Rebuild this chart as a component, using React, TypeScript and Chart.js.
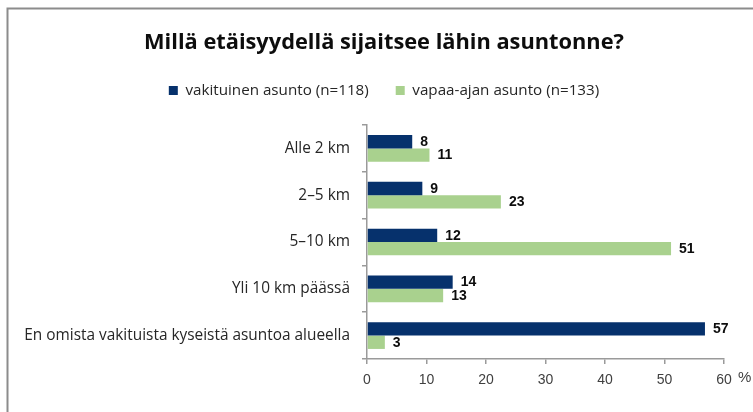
import React, { useEffect, useRef } from "react";
import { Chart, registerables } from "chart.js";

Chart.register(...registerables);

const title = "Millä etäisyydellä sijaitsee lähin asuntonne?";
const categories = [
  "Alle 2 km",
  "2–5 km",
  "5–10 km",
  "Yli 10 km päässä",
  "En omista vakituista kyseistä asuntoa alueella",
];
const seriesNames = ["vakituinen asunto (n=118)", "vapaa-ajan asunto (n=133)"];
const vakituinen = [7.6, 9.3, 11.8, 14.4, 56.8];
const vapaaAjan = [10.5, 22.5, 51.1, 12.8, 3.0];
const xMin = 0;
const xMax = 60;
const xStep = 10;
const unitLabel = "%";

const framePlugin = {
  id: "frame",
  beforeDraw(chart: any) {
    const { ctx } = chart;
    ctx.save();
    ctx.fillStyle = "#ffffff";
    ctx.fillRect(0, 0, chart.width, chart.height);
    ctx.strokeStyle = "#8c8c8c";
    ctx.lineWidth = 2;
    ctx.strokeRect(7.5, 8.5, 1000, 1000);
    ctx.restore();
  },
};

// let the long category labels extend left of the y-scale box (avoid clipping)
const labelAreaPlugin = {
  id: "labelArea",
  afterLayout(chart: any) {
    const ys = chart.scales.y;
    if (ys) ys.left = 0;
  },
};

const valueLabelPlugin = {
  id: "valueLabels",
  afterDatasetsDraw(chart: any) {
    const { ctx } = chart;
    ctx.save();
    ctx.font = "bold 14px 'Liberation Sans', Arial, sans-serif";
    ctx.fillStyle = "#0d0d0d";
    ctx.textAlign = "left";
    ctx.textBaseline = "middle";
    chart.data.datasets.forEach((ds: any, i: number) => {
      const meta = chart.getDatasetMeta(i);
      meta.data.forEach((bar: any, j: number) => {
        ctx.fillText(String(Math.round(ds.data[j])), bar.x + 8, bar.y + 0.5);
      });
    });
    ctx.restore();
  },
};

const unitPlugin = {
  id: "unitLabel",
  afterDraw(chart: any) {
    const { ctx } = chart;
    const xs = chart.scales.x;
    ctx.save();
    ctx.font = "15px 'Liberation Sans', Arial, sans-serif";
    ctx.fillStyle = "#404040";
    ctx.textAlign = "left";
    ctx.textBaseline = "middle";
    ctx.fillText(unitLabel, xs.getPixelForValue(xMax) + 14, xs.bottom - 34);
    ctx.restore();
  },
};

export default function App() {
  const ref = useRef<HTMLCanvasElement | null>(null);

  useEffect(() => {
    if (!ref.current) return;
    const chart = new Chart(ref.current, {
      type: "bar",
      data: {
        labels: categories,
        datasets: [
          {
            label: seriesNames[0],
            data: vakituinen,
            backgroundColor: "#06316c",
            categoryPercentage: 0.57,
            barPercentage: 1,
          },
          {
            label: seriesNames[1],
            data: vapaaAjan,
            backgroundColor: "#a9d18e",
            categoryPercentage: 0.57,
            barPercentage: 1,
          },
        ],
      },
      options: {
        indexAxis: "y",
        responsive: false,
        animation: false,
        layout: { padding: { left: 44, right: 29, top: 0, bottom: 0 } },
        plugins: {
          tooltip: { enabled: false },
          title: {
            display: true,
            text: title,
            color: "#0d0d0d",
            font: { family: "'Open Sans', sans-serif", size: 21.8, weight: "bold", lineHeight: 1 },
            padding: { top: 31.5, bottom: 2.5 },
          },
          legend: {
            display: true,
            position: "top",
            labels: {
              boxWidth: 9,
              boxHeight: 9,
              padding: 27,
              color: "#262626",
              font: { family: "'Open Sans', sans-serif", size: 15.2 },
            },
          },
          subtitle: {
            display: true,
            text: "",
            weight: 0,
            font: { size: 1, lineHeight: 1 },
            padding: { top: 16, bottom: 0 },
          } as any,
        },
        scales: {
          x: {
            type: "linear",
            min: xMin,
            max: xMax,
            afterFit(scale: any) {
              scale.height = 53;
            },
            ticks: {
              stepSize: xStep,
              color: "#404040",
              padding: 8,
              font: { family: "'Liberation Sans', Arial, sans-serif", size: 14 },
            },
            grid: {
              display: true,
              drawOnChartArea: false,
              drawTicks: true,
              tickLength: 5,
              color: "#9a9a9a",
              lineWidth: 1.5,
            },
            border: { display: true, color: "#9a9a9a", width: 1.5 },
          },
          y: {
            type: "category",
            afterFit(scale: any) {
              scale.width = 323;
            },
            ticks: {
              color: "#262626",
              padding: 12,
              font: { family: "'Open Sans', sans-serif", size: 15.4 },
            },
            grid: {
              display: true,
              offset: true,
              drawOnChartArea: false,
              drawTicks: true,
              tickLength: 5,
              color: "#9a9a9a",
              lineWidth: 1.5,
            },
            border: { display: true, color: "#9a9a9a", width: 1.5 },
          },
        },
      },
      plugins: [framePlugin, labelAreaPlugin, valueLabelPlugin, unitPlugin],
    });
    return () => chart.destroy();
  }, []);

  return (
    <div style={{ position: "fixed", left: 0, top: 0, width: 753, height: 412, overflow: "hidden", background: "#fff" }}>
      <canvas ref={ref} width={753} height={412} style={{ display: "block" }} />
    </div>
  );
}
